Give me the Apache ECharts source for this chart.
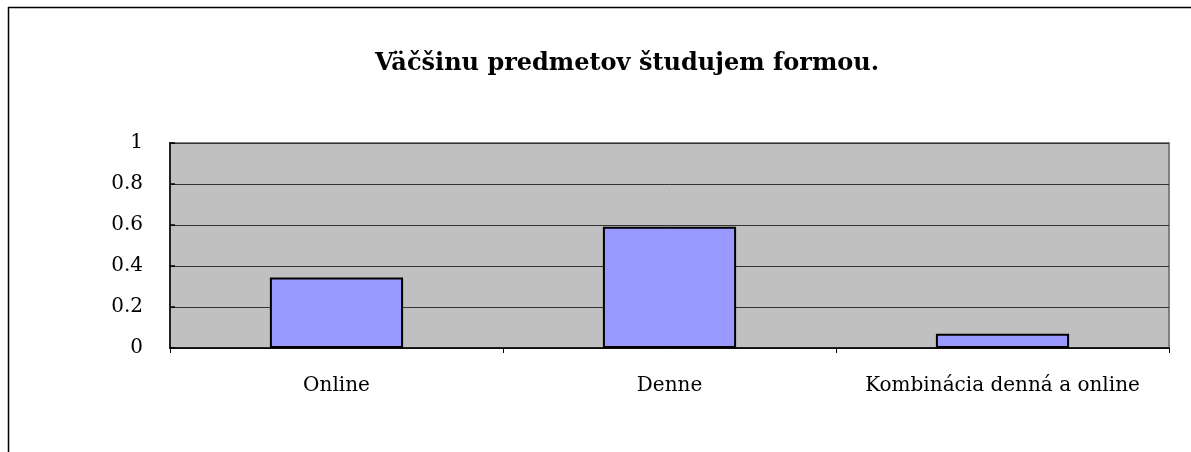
<!DOCTYPE html>
<html><head><meta charset="utf-8">
<script src="https://cdn.jsdelivr.net/npm/echarts@6/dist/echarts.min.js"></script>
<style>html,body{margin:0;padding:0;background:#fff}#c{width:1191px;height:452px}</style>
</head><body><div id="c"></div>
<script>
const titleText = "Väčšinu predmetov študujem formou.";
const categories = ["Online", "Denne", "Kombinácia denná a online"];
const values = [0.344, 0.592, 0.07];
const yTicks = [0, 0.2, 0.4, 0.6, 0.8, 1];

const chart = echarts.init(document.getElementById('c'));
const font = '"DejaVu Serif", "Liberation Serif", serif';
chart.setOption({
  animation: false,
  backgroundColor: '#fff',
  title: {
    text: titleText, left: 622, top: 47, textAlign: 'center',
    textStyle: {fontFamily: font, fontWeight: 'bold', fontSize: 24, color: '#000'}
  },
  graphic: [
    {type: 'line', shape: {x1: 8, y1: 7.5, x2: 1191, y2: 7.5}, style: {stroke: '#000', lineWidth: 1.5}},
    {type: 'line', shape: {x1: 8.5, y1: 7, x2: 8.5, y2: 452}, style: {stroke: '#000', lineWidth: 1.5}}
  ],
  grid: {
    left: 170, top: 143, width: 999, height: 205,
    show: true, backgroundColor: '#C0C0C0', borderColor: '#808080', borderWidth: 2
  },
  xAxis: {
    type: 'category', data: categories,
    axisLine: {show: true, lineStyle: {color: '#000', width: 1.5}},
    axisTick: {show: true, interval: 0, alignWithLabel: false, inside: false, length: 5, lineStyle: {color: '#000'}},
    axisLabel: {interval: 0, fontFamily: font, fontSize: 20, color: '#000', margin: 28}
  },
  yAxis: {
    type: 'value', min: 0, max: 1, interval: 0.2,
    axisLine: {show: true, lineStyle: {color: '#000', width: 1.5}},
    axisTick: {show: true, inside: true, length: 5, lineStyle: {color: '#000', width: 1.5}},
    splitLine: {show: true, lineStyle: {color: '#333', width: 1}},
    axisLabel: {
      fontFamily: font, fontSize: 20, color: '#000', margin: 27,
      formatter: v => { const t = yTicks.find(x => Math.abs(x - v) < 1e-9); return t === undefined ? '' : String(t); }
    }
  },
  series: [{
    type: 'bar', data: values, barCategoryGap: '60%',
    itemStyle: {color: '#9999FF', borderColor: '#000', borderWidth: 2}
  }]
});
</script></body></html>
